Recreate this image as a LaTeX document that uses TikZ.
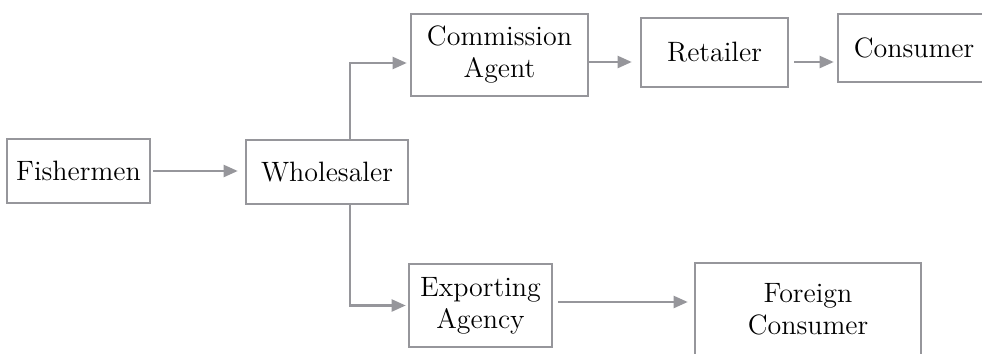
\documentclass[tikz,border=0pt]{standalone}
\usepackage{tikz}
\usetikzlibrary{arrows.meta}
\definecolor{linegray}{RGB}{150,150,155}

\begin{document}
\begin{tikzpicture}[x=0.5pt,y=-0.5pt,
	box/.style={draw=linegray,line width=1.3pt,align=center,inner sep=2pt,
		font=\fontsize{14}{16}\selectfont},
	arr/.style={draw=linegray,line width=1.1pt,-{Triangle[length=7pt,width=6pt]}}]
\clip[use as bounding box] (0,0) rectangle (982,354);
\node [box,minimum width=71.5pt,minimum height=32pt] (f) at (78.5,171) {Fishermen};
\node [box,minimum width=81pt,minimum height=32pt] (w) at (327,172) {Wholesaler};
\node [box,minimum width=88.5pt,minimum height=41pt] (c) at (499.5,55) {Commission\\Agent};
\node [box,minimum width=73.5pt,minimum height=34.5pt] (r) at (714.5,52.5) {Retailer};
\node [box,minimum width=76pt,minimum height=34pt] (k) at (914,48) {Consumer};
\node [box,minimum width=71.5pt,minimum height=41.5pt] (e) at (480.5,305.5) {Exporting\\Agency};
\node [box,minimum width=113pt,minimum height=46pt] (g) at (808,309) {Foreign\\Consumer};
\coordinate (u) at (350,63);
\coordinate (v) at (0,62);
\coordinate (s) at (0,302);
\draw [arr,shorten <=1pt,shorten >=3.5pt] (f.east) -- (f.east -| w.west);
\draw [arr,shorten >=1.5pt] (w.north -| u) |- (c.west |- u);
\draw [arr,shorten >=4pt] (c.east |- v) -- (r.west |- v);
\draw [arr,shorten <=2.5pt,shorten >=1.5pt] (r.east |- v) -- (k.west |- v);
\draw [arr,shorten >=1pt] (w.south -| u) |- (e.west);
\draw [arr,shorten <=2.5pt,shorten >=3pt] (e.east |- s) -- (g.west |- s);
\end{tikzpicture}
\end{document}
